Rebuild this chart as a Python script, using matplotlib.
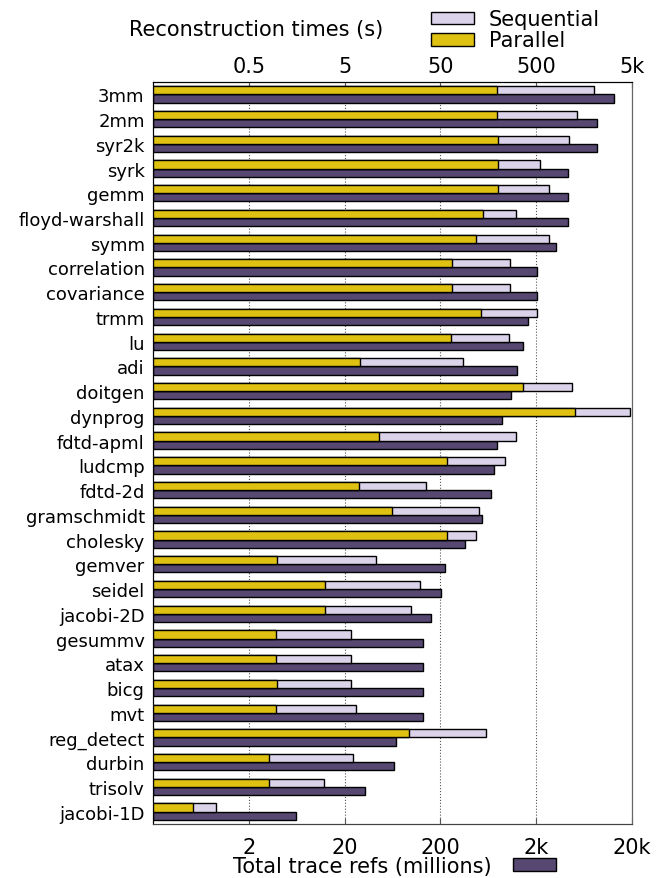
import matplotlib.pyplot as plt
import matplotlib.patches as patches
import numpy as np

benchmarks = [
    "3mm", "2mm", "syr2k", "syrk", "gemm", "floyd-warshall", "symm",
    "correlation", "covariance", "trmm", "lu", "adi", "doitgen", "dynprog",
    "fdtd-apml", "ludcmp", "fdtd-2d", "gramschmidt", "cholesky", "gemver",
    "seidel", "jacobi-2D", "gesummv", "atax", "bicg", "mvt", "reg_detect",
    "durbin", "trisolv", "jacobi-1D",
]

# reconstruction times (s)
parallel = [196, 196, 200, 200, 200, 138, 118, 65.6, 65.6, 133, 64, 7.2,
            367, 1259, 11.5, 58.2, 6.95, 15.7, 58.2, 0.94, 3.07, 3.07,
            0.92, 0.92, 0.94, 0.92, 23.7, 0.76, 0.76, 0.082]
sequential = [2005, 1343, 1109, 552, 674, 310, 685, 264, 264, 506, 258,
              86.7, 1191, 4808, 308, 234, 35.4, 126, 118, 10.5, 30.6, 24.5,
              5.74, 5.74, 5.74, 6.6, 151, 6.0, 3.03, 0.18]
# total trace refs (millions)
total_refs = [12970, 8690, 8690, 4326, 4326, 4326, 3244, 2023, 2023, 1629,
              1446, 1271, 1092, 873, 785, 731, 675, 540, 361, 225, 201,
              161, 131, 131, 131, 131, 68.2, 64.6, 32.1, 6.07]

bottom_ticks = [2, 20, 200, 2000, 20000]
bottom_labels = ["2", "20", "200", "2k", "20k"]
top_ticks = [0.5, 5, 50, 500, 5000]
top_labels = ["0.5", "5", "50", "500", "5k"]

C_PAR = "#dfc211"
C_SEQ = "#dbd3ea"
C_TOT = "#574872"
FS = 15

plt.rcParams["font.family"] = "DejaVu Sans"

fig = plt.figure(figsize=(6.66, 8.79), dpi=100)
ax = fig.add_axes([0.2297, 0.0614, 0.7193, 0.8442])
ax.set_xscale("log")
ax.set_xlim(0.2, 20000)
ax.set_ylim(len(benchmarks) - 0.5, -0.5)

y = np.arange(len(benchmarks))
h = 0.33
ax.barh(y + h / 2, total_refs, height=h, left=0.2, color=C_TOT,
        edgecolor="black", linewidth=1.0, zorder=2)
ax.set_xticks(bottom_ticks)
ax.set_xticklabels(bottom_labels, fontsize=FS)
ax.minorticks_off()
ax.set_yticks(y)
ax.set_yticklabels(benchmarks, fontsize=13)
ax.tick_params(axis="y", length=0, pad=6)
ax.tick_params(axis="x", direction="in", length=4, color="#555555", pad=9)
ax.grid(axis="x", linestyle=":", color="#555555", linewidth=0.8)
ax.set_axisbelow(True)

ax2 = ax.twiny()
ax2.set_xscale("log")
ax2.set_xlim(0.05, 5000)
ax2.barh(y - h / 2, sequential, height=h, left=0.05, color=C_SEQ,
         edgecolor="black", linewidth=1.0, zorder=2)
ax2.barh(y - h / 2, parallel, height=h, left=0.05, color=C_PAR,
         edgecolor="black", linewidth=1.0, zorder=3)
ax2.set_xticks(top_ticks)
ax2.set_xticklabels(top_labels, fontsize=FS)
ax2.minorticks_off()
ax2.tick_params(axis="x", direction="in", length=4, color="#555555", pad=4)

for a in (ax, ax2):
    a.spines["right"].set_color("#666666")
    a.spines["bottom"].set_color("#444444")

fig.text(0.385, 0.966, "Reconstruction times (s)", fontsize=FS,
         ha="center", va="center")

top_handles = [
    patches.Patch(facecolor=C_SEQ, edgecolor="black", linewidth=1.0, label="Sequential"),
    patches.Patch(facecolor=C_PAR, edgecolor="black", linewidth=1.0, label="Parallel"),
]
fig.legend(handles=top_handles, loc="upper left", bbox_to_anchor=(0.625, 1.0048),
           frameon=False, fontsize=FS, handlelength=2.07, handleheight=0.58,
           labelspacing=0.05, handletextpad=0.7, borderaxespad=0.3)

bottom_handle = [patches.Patch(facecolor=C_TOT, edgecolor="black", linewidth=1.0,
                               label="Total trace refs (millions)")]
fig.legend(handles=bottom_handle, loc="lower center", bbox_to_anchor=(0.5925, 0.0),
           frameon=False, fontsize=FS, handlelength=2.07, handleheight=0.58,
           markerfirst=False, handletextpad=1.0, borderaxespad=0.0, borderpad=0.1)

fig.savefig("out.png", dpi=100)
